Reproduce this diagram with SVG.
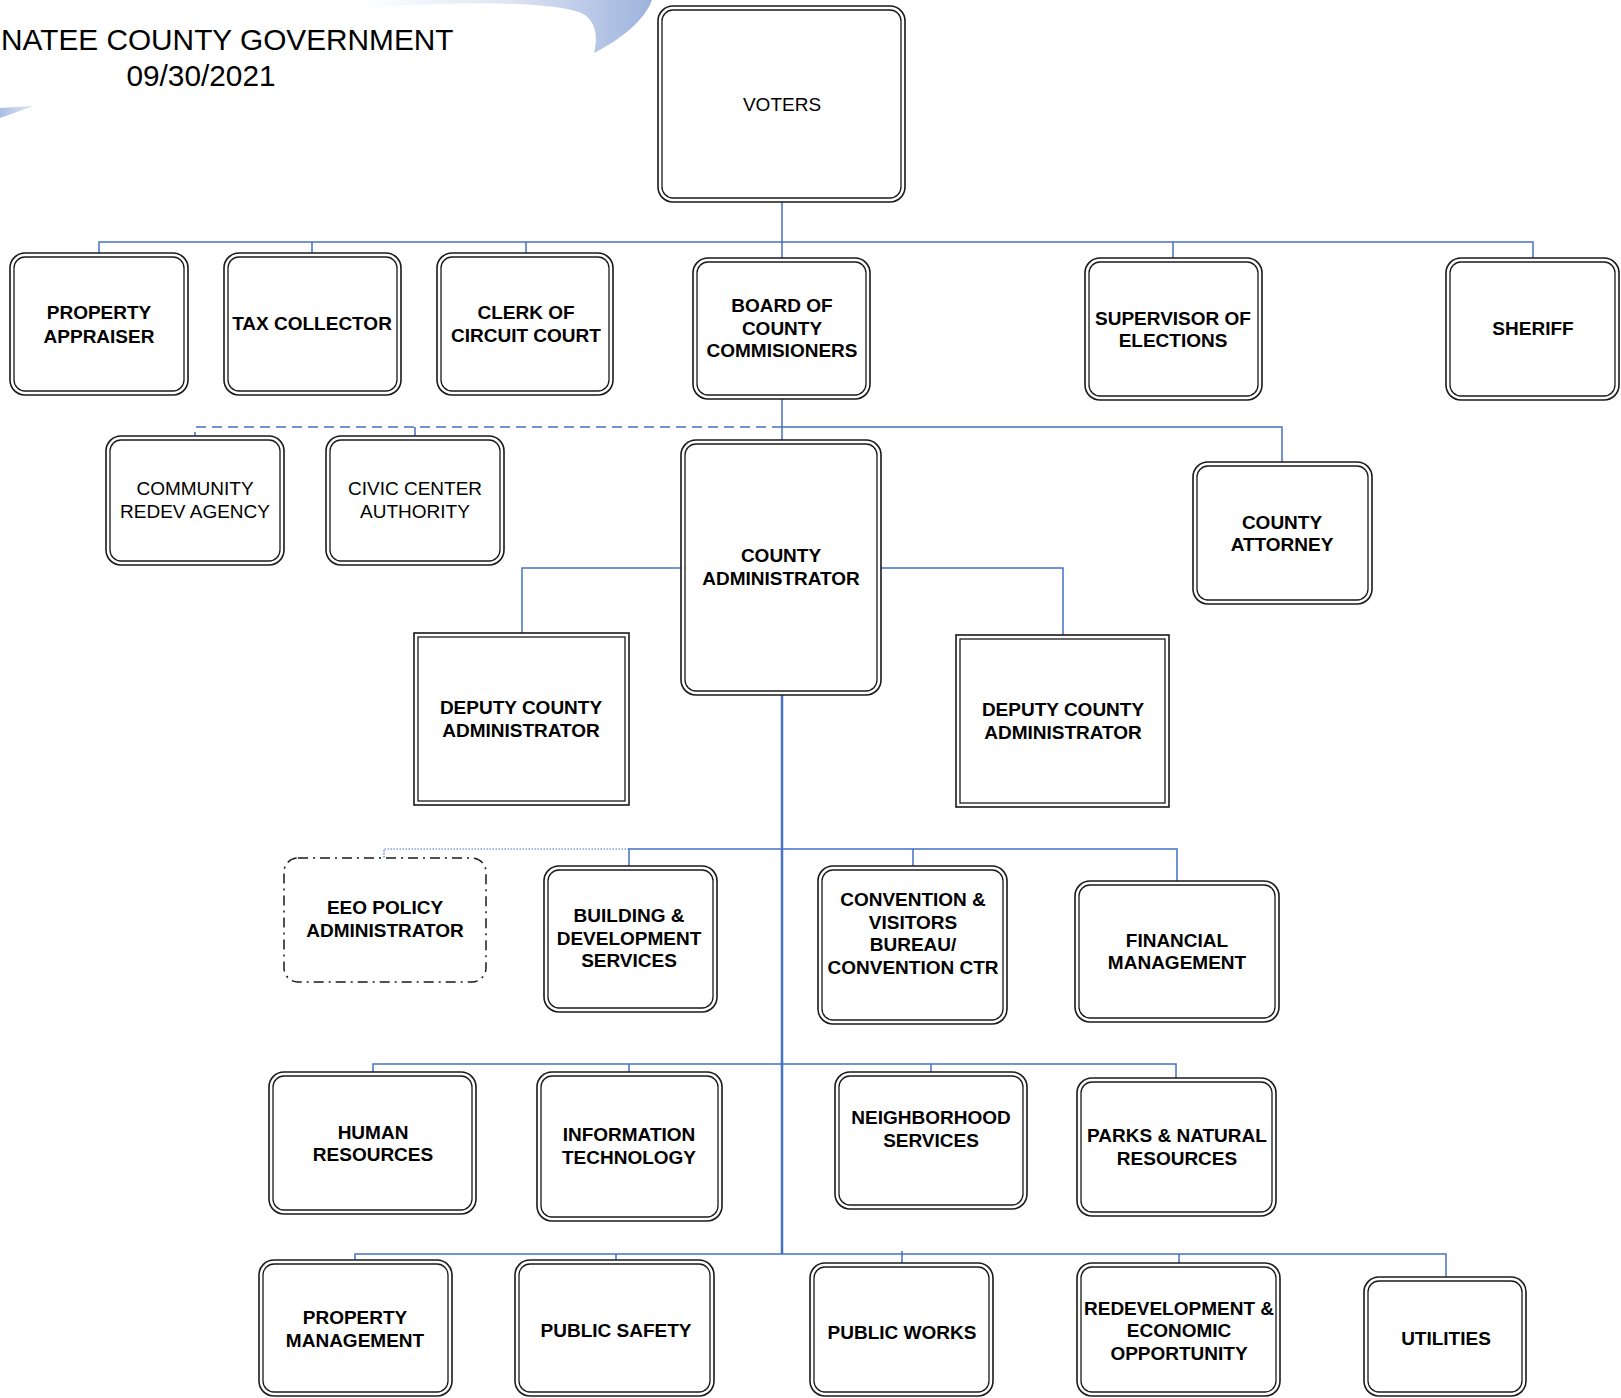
<svg xmlns="http://www.w3.org/2000/svg" width="1621" height="1398" viewBox="0 0 1621 1398">
<defs>
<linearGradient id="sw" x1="0" y1="0" x2="1" y2="0">
<stop offset="0" stop-color="#ffffff"/>
<stop offset="0.5" stop-color="#dfe6f3"/>
<stop offset="1" stop-color="#9db3de"/>
</linearGradient>
<linearGradient id="sw2" x1="0" y1="0" x2="1" y2="0">
<stop offset="0" stop-color="#a9bde4"/>
<stop offset="1" stop-color="#e3e9f5"/>
</linearGradient>
<style>
.o{fill:#fff;stroke:#1a1a1a;stroke-width:1.6}
.i{fill:none;stroke:#1a1a1a;stroke-width:1.3}
.d{fill:#fff;stroke:#1a1a1a;stroke-width:1.5;stroke-dasharray:10 5 2 5}
.t{font-family:"Liberation Sans",Arial,sans-serif;font-size:19px;font-weight:bold;text-anchor:middle;fill:#000}
.r{font-family:"Liberation Sans",Arial,sans-serif;font-size:19px;text-anchor:middle;fill:#000}
.h{font-family:"Liberation Sans",Arial,sans-serif;font-size:29.8px;fill:#000}
.c{fill:none;stroke:#4472c4;stroke-width:1.5}
.s{fill:none;stroke:#4472c4;stroke-width:2.5}
.dash{fill:none;stroke:#4472c4;stroke-width:1.5;stroke-dasharray:10 6}
.dot{fill:none;stroke:#4472c4;stroke-width:1.2;stroke-dasharray:1.5 1.5}
</style>
</defs>
<rect width="1621" height="1398" fill="#fff"/>
<g id="decor">
<path d="M360,8 C450,2 560,0 585,15 C598,25 597,40 594,53 C620,40 645,20 652,0 L365,0 Z" fill="url(#sw)"/>
<path d="M0,108 L34,106 L0,118 Z" fill="url(#sw2)"/>
<text class="h" x="1" y="50">NATEE COUNTY GOVERNMENT</text>
<text class="h" x="201" y="86" text-anchor="middle">09/30/2021</text>
</g>
<g id="connectors">
<path class="c" d="M782,202 V258 M99,253 V242 H1533 V258 M312,242 V253 M526,242 V253 M1173,242 V258"/>
<path class="c" d="M782,399 V440 M782,427 H1282 V462"/>
<path class="dash" d="M782,427 H195 V436 M415,427 V436"/>
<path class="c" d="M681,568 H522 V633 M881,568 H1063 V635"/>
<path class="s" d="M782,695 V1254"/>
<path class="c" d="M629,866 V849 H1177 V881 M913,849 V866"/>
<path class="dot" d="M629,849 H384 V858"/>
<path class="c" d="M373,1072 V1064 H1176 V1078 M629,1064 V1072 M931,1064 V1072"/>
<path class="c" d="M355,1260 V1254 H1446 V1277 M616,1254 V1260 M902,1251 V1263 M1179,1254 V1263"/>
</g>
<g id="voters"><rect class="o" x="658" y="6" width="247" height="196" rx="15"/><rect class="i" x="662" y="10" width="239" height="188" rx="11"/><text class="r" x="782" y="111">VOTERS</text></g>
<g id="property-appraiser"><rect class="o" x="10" y="253" width="178" height="142" rx="15"/><rect class="i" x="14" y="257" width="170" height="134" rx="11"/><text class="t" x="99" y="319">PROPERTY</text><text class="t" x="99" y="343">APPRAISER</text></g>
<g id="tax-collector"><rect class="o" x="224" y="253" width="177" height="142" rx="15"/><rect class="i" x="228" y="257" width="169" height="134" rx="11"/><text class="t" x="312" y="330">TAX COLLECTOR</text></g>
<g id="clerk"><rect class="o" x="437" y="253" width="176" height="142" rx="15"/><rect class="i" x="441" y="257" width="168" height="134" rx="11"/><text class="t" x="526" y="319">CLERK OF</text><text class="t" x="526" y="342">CIRCUIT COURT</text></g>
<g id="bocc"><rect class="o" x="693" y="258" width="177" height="141" rx="15"/><rect class="i" x="697" y="262" width="169" height="133" rx="11"/><text class="t" x="782" y="312">BOARD OF</text><text class="t" x="782" y="335">COUNTY</text><text class="t" x="782" y="357">COMMISIONERS</text></g>
<g id="supervisor"><rect class="o" x="1085" y="258" width="177" height="142" rx="15"/><rect class="i" x="1089" y="262" width="169" height="134" rx="11"/><text class="t" x="1173" y="325">SUPERVISOR OF</text><text class="t" x="1173" y="347">ELECTIONS</text></g>
<g id="sheriff"><rect class="o" x="1446" y="258" width="173" height="142" rx="15"/><rect class="i" x="1450" y="262" width="165" height="134" rx="11"/><text class="t" x="1533" y="335">SHERIFF</text></g>
<g id="cra"><rect class="o" x="106" y="436" width="178" height="129" rx="15"/><rect class="i" x="110" y="440" width="170" height="121" rx="11"/><text class="r" x="195" y="495">COMMUNITY</text><text class="r" x="195" y="518">REDEV AGENCY</text></g>
<g id="cca"><rect class="o" x="326" y="436" width="178" height="129" rx="15"/><rect class="i" x="330" y="440" width="170" height="121" rx="11"/><text class="r" x="415" y="495">CIVIC CENTER</text><text class="r" x="415" y="518">AUTHORITY</text></g>
<g id="county-admin"><rect class="o" x="681" y="440" width="200" height="255" rx="15"/><rect class="i" x="685" y="444" width="192" height="247" rx="11"/><text class="t" x="781" y="562">COUNTY</text><text class="t" x="781" y="585">ADMINISTRATOR</text></g>
<g id="county-attorney"><rect class="o" x="1193" y="462" width="179" height="142" rx="15"/><rect class="i" x="1197" y="466" width="171" height="134" rx="11"/><text class="t" x="1282" y="529">COUNTY</text><text class="t" x="1282" y="551">ATTORNEY</text></g>
<g id="deputy-1"><rect class="o" x="414" y="633" width="215" height="172"/><rect class="i" x="418" y="637" width="207" height="164"/><text class="t" x="521" y="714">DEPUTY COUNTY</text><text class="t" x="521" y="737">ADMINISTRATOR</text></g>
<g id="deputy-2"><rect class="o" x="956" y="635" width="213" height="172"/><rect class="i" x="960" y="639" width="205" height="164"/><text class="t" x="1063" y="716">DEPUTY COUNTY</text><text class="t" x="1063" y="739">ADMINISTRATOR</text></g>
<g id="eeo"><rect class="d" x="284" y="858" width="202" height="124" rx="14"/><text class="t" x="385" y="914">EEO POLICY</text><text class="t" x="385" y="937">ADMINISTRATOR</text></g>
<g id="building"><rect class="o" x="544" y="866" width="173" height="146" rx="15"/><rect class="i" x="548" y="870" width="165" height="138" rx="11"/><text class="t" x="629" y="922">BUILDING &amp;</text><text class="t" x="629" y="945">DEVELOPMENT</text><text class="t" x="629" y="967">SERVICES</text></g>
<g id="convention"><rect class="o" x="818" y="866" width="189" height="158" rx="15"/><rect class="i" x="822" y="870" width="181" height="150" rx="11"/><text class="t" x="913" y="906">CONVENTION &amp;</text><text class="t" x="913" y="929">VISITORS</text><text class="t" x="913" y="951">BUREAU/</text><text class="t" x="913" y="974">CONVENTION CTR</text></g>
<g id="financial"><rect class="o" x="1075" y="881" width="204" height="141" rx="15"/><rect class="i" x="1079" y="885" width="196" height="133" rx="11"/><text class="t" x="1177" y="947">FINANCIAL</text><text class="t" x="1177" y="969">MANAGEMENT</text></g>
<g id="hr"><rect class="o" x="269" y="1072" width="207" height="142" rx="15"/><rect class="i" x="273" y="1076" width="199" height="134" rx="11"/><text class="t" x="373" y="1139">HUMAN</text><text class="t" x="373" y="1161">RESOURCES</text></g>
<g id="it"><rect class="o" x="537" y="1072" width="185" height="149" rx="15"/><rect class="i" x="541" y="1076" width="177" height="141" rx="11"/><text class="t" x="629" y="1141">INFORMATION</text><text class="t" x="629" y="1164">TECHNOLOGY</text></g>
<g id="neighborhood"><rect class="o" x="835" y="1072" width="192" height="137" rx="15"/><rect class="i" x="839" y="1076" width="184" height="129" rx="11"/><text class="t" x="931" y="1124">NEIGHBORHOOD</text><text class="t" x="931" y="1147">SERVICES</text></g>
<g id="parks"><rect class="o" x="1077" y="1078" width="199" height="138" rx="15"/><rect class="i" x="1081" y="1082" width="191" height="130" rx="11"/><text class="t" x="1177" y="1142">PARKS &amp; NATURAL</text><text class="t" x="1177" y="1165">RESOURCES</text></g>
<g id="property-management"><rect class="o" x="259" y="1260" width="193" height="136" rx="15"/><rect class="i" x="263" y="1264" width="185" height="128" rx="11"/><text class="t" x="355" y="1324">PROPERTY</text><text class="t" x="355" y="1347">MANAGEMENT</text></g>
<g id="public-safety"><rect class="o" x="515" y="1260" width="199" height="136" rx="15"/><rect class="i" x="519" y="1264" width="191" height="128" rx="11"/><text class="t" x="616" y="1337">PUBLIC SAFETY</text></g>
<g id="public-works"><rect class="o" x="810" y="1263" width="183" height="133" rx="15"/><rect class="i" x="814" y="1267" width="175" height="125" rx="11"/><text class="t" x="902" y="1339">PUBLIC WORKS</text></g>
<g id="redevelopment"><rect class="o" x="1077" y="1263" width="203" height="133" rx="15"/><rect class="i" x="1081" y="1267" width="195" height="125" rx="11"/><text class="t" x="1179" y="1315">REDEVELOPMENT &amp;</text><text class="t" x="1179" y="1337">ECONOMIC</text><text class="t" x="1179" y="1360">OPPORTUNITY</text></g>
<g id="utilities"><rect class="o" x="1364" y="1277" width="162" height="119" rx="15"/><rect class="i" x="1368" y="1281" width="154" height="111" rx="11"/><text class="t" x="1446" y="1345">UTILITIES</text></g>
</svg>
